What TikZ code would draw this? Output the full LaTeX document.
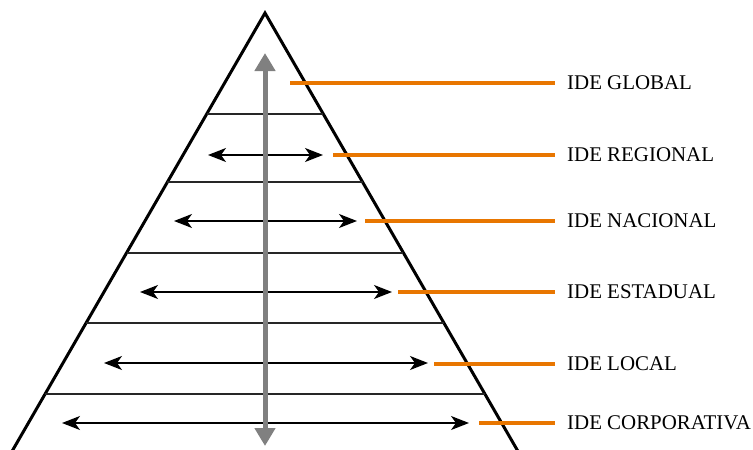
\documentclass[tikz,border=0pt]{standalone}
\usepackage{fontspec}
\setmainfont{Liberation Serif}
\usetikzlibrary{arrows.meta}
\definecolor{ideorange}{RGB}{232,118,0}
\definecolor{idegray}{RGB}{128,128,128}
\begin{document}
\begin{tikzpicture}[x=1pt,y=-1pt,
  edge/.style={line width=3pt,black},
  level/.style={line width=1.4pt,black!85},
  flow/.style={line width=1.4pt,black,{Stealth[length=18pt,width=14pt,inset=5pt]}-{Stealth[length=18pt,width=14pt,inset=5pt]}},
  tick/.style={line width=4pt,ideorange},
  label/.style={anchor=west,inner sep=0pt,font=\fontsize{20.9pt}{23pt}\selectfont}]
\useasboundingbox (0,0) rectangle (753,450);
\clip (0,0) rectangle (753,450);
% triangle
\coordinate (apex) at (265,13);
\coordinate (bl) at (7,460);
\coordinate (br) at (523,460);
\draw[edge,line join=miter] (bl) -- (apex) -- (br);
% level lines
\foreach \y/\n in {114/1,182/2,253/3,323/4,394/5}{
  \pgfmathsetmacro{\dx}{0.577*(\y-13)}
  \coordinate (l\n) at (265-\dx,\y);
  \coordinate (r\n) at (265+\dx,\y);
  \draw[level] (l\n) -- (r\n);
}
% horizontal arrows
\foreach \y/\a/\b/\n in {155/208/323/1,221/174/357/2,292/140/392/3,363/104/428/4,423/62/469/5}{
  \coordinate (al\n) at (\a,\y);
  \coordinate (ar\n) at (\b,\y);
  \draw[flow] (al\n) -- (ar\n);
}
% gray vertical arrow
\coordinate (vt) at (265,53);
\coordinate (vb) at (265,446);
\draw[line width=5pt,idegray,{Triangle[length=18pt,width=20pt]}-{Triangle[length=18pt,width=20pt]}] (vt) -- (vb);
% orange ticks and labels
\foreach \y/\a/\t/\n in {83/290/IDE GLOBAL/1,155/333/IDE REGIONAL/2,221/365/IDE NACIONAL/3,292/398/IDE ESTADUAL/4,364/434/IDE LOCAL/5,423/479/IDE CORPORATIVA/6}{
  \coordinate (o\n) at (\a,\y);
  \node[label] (t\n) at (567,\y) {\t};
  \draw[tick] (o\n) -- (555,\y);
}
\end{tikzpicture}
\end{document}
